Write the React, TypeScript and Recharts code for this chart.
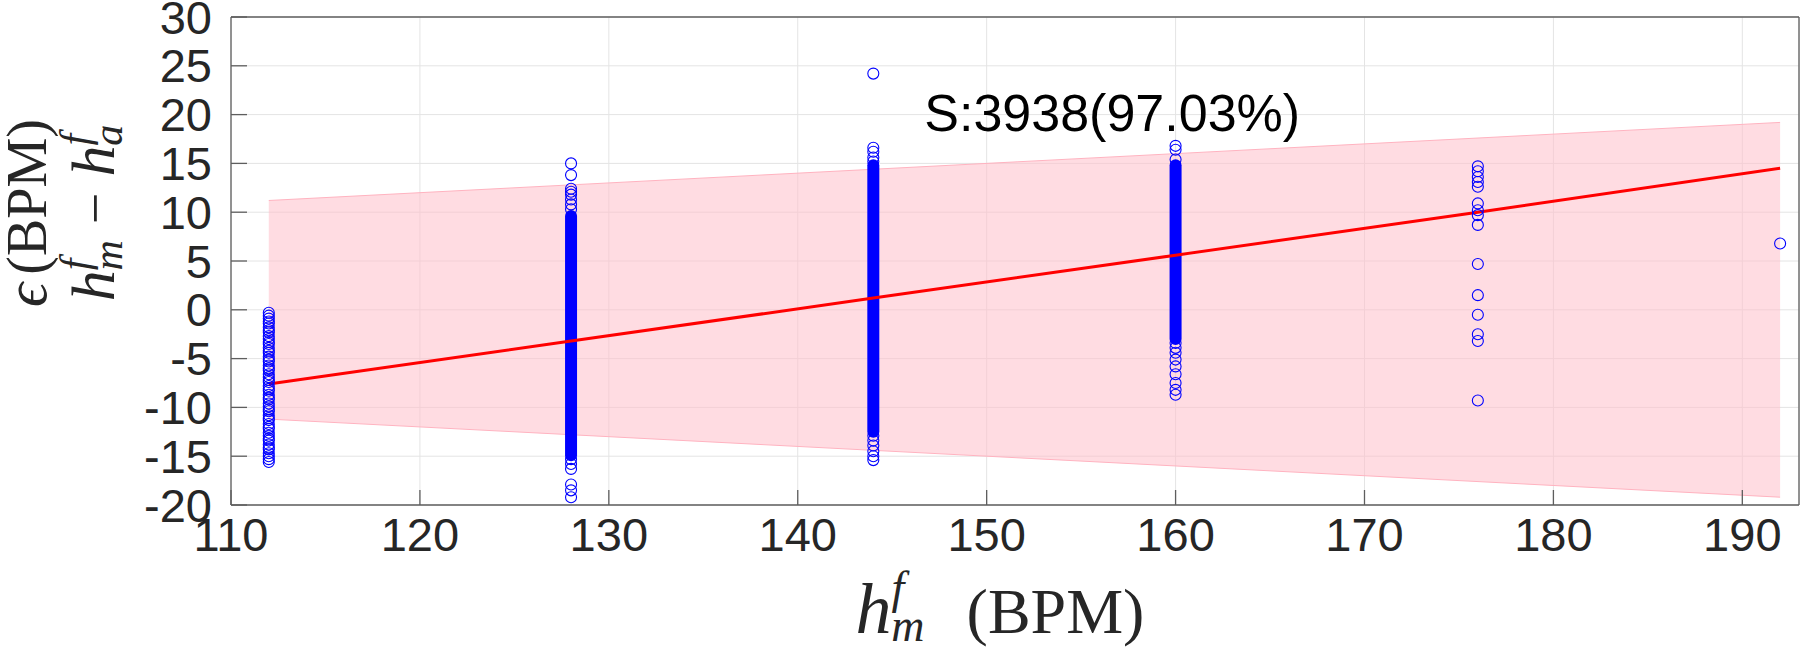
import {
  ComposedChart,
  XAxis,
  YAxis,
  CartesianGrid,
  Area,
  Line,
  Scatter,
  ReferenceDot,
} from 'recharts'

// ─── data ────────────────────────────────────────

const xTicks = [110, 120, 130, 140, 150, 160, 170, 180, 190]
const yTicks = [-20, -15, -10, -5, 0, 5, 10, 15, 20, 25, 30]

// fitted error line, one value per heart-rate column
const fitX = [112, 128, 144, 160, 176, 192]
const fitY = [-7.6, -3.2, 1.2, 5.6, 10.0, 14.5]

// tolerance band (only the two ends are needed)
const bandX = [112, 192]
const bandLow = [-11.2, -19.2]
const bandHigh = [11.2, 19.2]

// parts of a column so packed that the circles merge into one bar
const denseX = [128, 144, 160]
const denseLow = [-14.9, -12.5, -3.0]
const denseHigh = [9.6, 14.8, 14.8]

// circles that can still be told apart
const pts112 = [
  -0.3, -0.6, -0.9, -1.2, -1.4, -1.8, -2.1, -2.3, -2.7, -3.0, -3.3, -3.5, -3.9, -4.2,
  -4.4, -4.8, -5.1, -5.3, -5.7, -6.0, -6.2, -6.6, -6.9, -7.2, -7.4, -7.8, -8.1, -8.3,
  -8.7, -9.0, -9.2, -9.6, -9.9, -10.2, -10.4, -10.8, -11.1, -11.3, -11.7, -12.0, -12.2,
  -12.6, -12.9, -13.2, -13.4, -13.8, -14.1, -14.3, -14.7, -15.0, -15.3, -15.6,
]
const pts128 = [15.0, 13.8, 12.4, 12.1, 11.8, 11.3, 10.8, 10.3, -15.3, -15.8, -16.3, -17.9, -18.5, -19.2]
const pts144 = [24.2, 16.6, 16.2, 15.6, 15.2, -12.9, -13.4, -13.9, -14.5, -15.0, -15.4]
const pts160 = [16.8, 16.4, 15.4, -3.4, -3.9, -4.4, -5.1, -5.8, -6.6, -7.5, -8.2, -8.7]
const pts176 = [14.7, 14.2, 13.6, 13.1, 12.6, 10.9, 10.2, 9.7, 8.7, 4.7, 1.5, -0.5, -2.5, -3.2, -9.3]
const pts192 = [6.8]

const annotation = 'S:3938(97.03%)'

// ─── tables for recharts ────────────────────

const fitData = fitX.map((x, i) => ({ x, y: fitY[i] }))
const bandData = bandX.map((x, i) => ({ x, band: [bandLow[i], bandHigh[i]] }))
const denseData = denseX.map((x, i) => [
  { x, y: denseLow[i] },
  { x, y: denseHigh[i] },
])
const scatterData = [
  ...pts112.map((y) => ({ x: 112, y })),
  ...pts128.map((y) => ({ x: 128, y })),
  ...pts144.map((y) => ({ x: 144, y })),
  ...pts160.map((y) => ({ x: 160, y })),
  ...pts176.map((y) => ({ x: 176, y })),
  ...pts192.map((y) => ({ x: 192, y })),
]

const SANS = '"Liberation Sans", Arial, sans-serif'
const SERIF = '"Liberation Serif", "DejaVu Serif", serif'
const AXIS = '#5e5e5e'
const TICK_FONT = 47

const Ring = (p: any) => (
  <circle cx={p.cx} cy={p.cy} r={5.5} fill="none" stroke="#0000ff" strokeWidth={1.1} />
)

// h_m^f (BPM)
const XTitle = (props: any) => {
  const vb = props.viewBox
  const cx = vb.x + vb.width / 2 - 15
  const y = vb.y + 128
  return (
    <text x={cx} y={y} textAnchor="middle" fontFamily={SERIF} fontSize={64} fill="#262626">
      <tspan fontStyle="italic" fontSize={72}>h</tspan>
      <tspan fontStyle="italic" fontSize={46} dy={-30}>f</tspan>
      <tspan fontStyle="italic" fontSize={46} dx={-13} dy={38}>m</tspan>
      <tspan dx={42} dy={-8}>(BPM)</tspan>
    </text>
  )
}

// ϵ (BPM) / h_m^f − h_a^f
const YTitle = (props: any) => {
  const vb = props.viewBox
  const cy = vb.y + 196
  const x1 = vb.x + 46
  const x2 = vb.x + 114
  return (
    <g fontFamily={SERIF} fontSize={56} fill="#262626">
      <text x={x1} y={cy} textAnchor="middle" transform={`rotate(-90, ${x1}, ${cy})`}>
        <tspan fontStyle="italic" fontSize={60}>ϵ</tspan>
        <tspan dx={8}>(BPM)</tspan>
      </text>
      <text x={x2} y={cy} textAnchor="middle" transform={`rotate(-90, ${x2}, ${cy})`}>
        <tspan fontStyle="italic" fontSize={62}>h</tspan>
        <tspan fontStyle="italic" fontSize={42} dy={-25}>f</tspan>
        <tspan fontStyle="italic" fontSize={42} dx={-12} dy={33}>m</tspan>
        <tspan dx={16} dy={-8}>−</tspan>
        <tspan fontStyle="italic" fontSize={62} dx={16}>h</tspan>
        <tspan fontStyle="italic" fontSize={42} dy={-25}>f</tspan>
        <tspan fontStyle="italic" fontSize={42} dx={-12} dy={33}>a</tspan>
      </text>
    </g>
  )
}

const Annotation = (props: any) => {
  const vb = props.viewBox
  return (
    <text x={vb.x} y={vb.y} fontFamily={SANS} fontSize={52} fill="#000">
      {annotation}
    </text>
  )
}

export default function App() {
  return (
    <div style={{ position: 'absolute', left: 0, top: 0, width: 1800, height: 650, background: '#fff' }}>
      <ComposedChart width={1800} height={650} margin={{ top: 16, right: 0, bottom: 0, left: 0 }}>
        <CartesianGrid stroke="#e4e4e4" strokeWidth={1} />
        <XAxis
          dataKey="x"
          type="number"
          domain={[110, 193]}
          ticks={xTicks}
          interval={0}
          allowDataOverflow
          height={145}
          stroke={AXIS}
          strokeWidth={1.3}
          tickSize={-15}
          tickMargin={28}
          tick={{ fontSize: TICK_FONT, fontFamily: SANS, fill: '#262626' }}
          label={{ content: XTitle }}
        />
        <XAxis
          xAxisId="top"
          orientation="top"
          dataKey="x"
          type="number"
          domain={[110, 193]}
          ticks={xTicks}
          interval={0}
          allowDataOverflow
          height={1}
          stroke={AXIS}
          strokeWidth={1.3}
          tickSize={-16}
          tick={false}
        />
        <YAxis
          type="number"
          domain={[-20, 30]}
          ticks={yTicks}
          interval={0}
          allowDataOverflow
          width={231}
          stroke={AXIS}
          strokeWidth={1.3}
          tickSize={-16}
          tickMargin={35}
          tick={{ fontSize: TICK_FONT, fontFamily: SANS, fill: '#262626' }}
          label={{ content: YTitle }}
        />
        <YAxis
          yAxisId="right"
          orientation="right"
          type="number"
          domain={[-20, 30]}
          ticks={yTicks}
          interval={0}
          allowDataOverflow
          width={1}
          stroke={AXIS}
          strokeWidth={1.3}
          tickSize={-16}
          tick={false}
        />
        <Area
          data={bandData}
          dataKey="band"
          type="linear"
          stroke="#ffb3c0"
          strokeWidth={1}
          fill="#ffc0cb"
          fillOpacity={0.55}
          isAnimationActive={false}
        />
        {denseData.map((d, i) => (
          <Line
            key={i}
            data={d}
            dataKey="y"
            type="linear"
            stroke="#0000ff"
            strokeWidth={12}
            strokeLinecap="round"
            dot={false}
            activeDot={false}
            isAnimationActive={false}
          />
        ))}
        <Scatter data={scatterData} dataKey="y" shape={Ring} isAnimationActive={false} />
        <Line
          data={fitData}
          dataKey="y"
          type="linear"
          stroke="#ff0000"
          strokeWidth={3}
          dot={false}
          activeDot={false}
          isAnimationActive={false}
        />
        <ReferenceDot x={146.7} y={18.3} r={0} fill="none" stroke="none" label={{ content: Annotation }} />
      </ComposedChart>
    </div>
  )
}
